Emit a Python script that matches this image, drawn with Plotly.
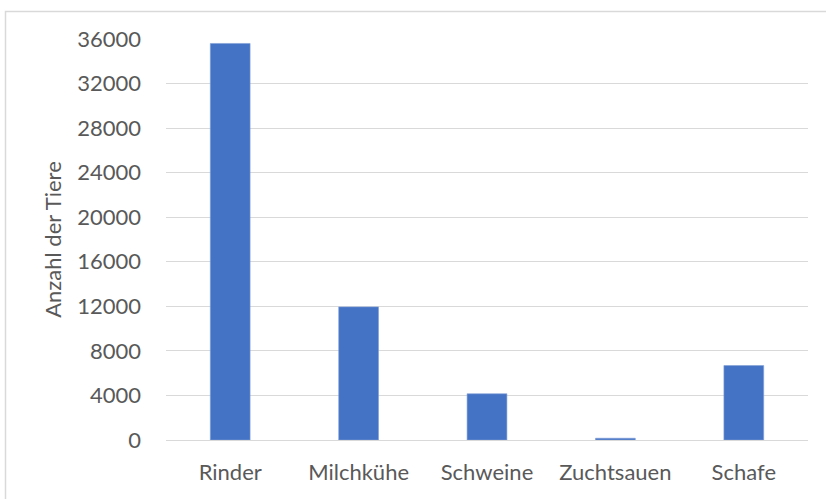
import plotly.graph_objects as go

# Livestock counts
categories = ["Rinder", "Milchkühe", "Schweine", "Zuchtsauen", "Schafe"]
animals = [35600, 11950, 4150, 160, 6680]
y_ticks = [0, 4000, 8000, 12000, 16000, 20000, 24000, 28000, 32000, 36000]

BAR_BLUE = "#4472C4"
GRID_GREY = "#d9d9d9"
TEXT_GREY = "#595959"

fig = go.Figure()
fig.add_trace(go.Bar(
    x=categories,
    y=animals,
    marker=dict(color=BAR_BLUE, line=dict(color="#7f9fd8", width=0.6)),
    hovertemplate="%{x}: %{y}<extra></extra>",
))

# outer chart frame (Excel chart area border), runs off the right/bottom edge
fig.add_shape(
    type="rect", xref="paper", yref="paper",
    x0=-0.2500, x1=1.04, y0=-0.17, y1=1.0686,
    line=dict(color=GRID_GREY, width=1.5),
    fillcolor="rgba(0,0,0,0)", layer="below",
)

fig.update_layout(
    width=826,
    height=499,
    margin=dict(l=166, r=18, t=39, b=59),
    paper_bgcolor="white",
    plot_bgcolor="white",
    bargap=0.69,
    showlegend=False,
    font=dict(family="Lato, 'Open Sans', sans-serif", size=22, color=TEXT_GREY),
)
fig.update_xaxes(
    showgrid=False, showline=False, zeroline=False,
    ticks="", ticklabelstandoff=17,
    tickfont=dict(size=22, color=TEXT_GREY),
)
fig.update_yaxes(
    range=[0, 36000],
    tickvals=y_ticks,
    ticktext=[str(v) for v in y_ticks],
    showgrid=True, gridcolor=GRID_GREY, gridwidth=1.3,
    zeroline=True, zerolinecolor=GRID_GREY, zerolinewidth=1.3,
    showline=False, ticks="", ticklabelstandoff=24,
    tickfont=dict(size=22, color=TEXT_GREY),
    title=dict(text="Anzahl der Tiere", font=dict(size=22, color=TEXT_GREY),
               standoff=9),
)

# drop the browser's default 8px body margin so the figure sits at 0,0
fig.write_html(
    "out.html",
    config={"displayModeBar": False},
    post_script="document.body.style.margin = '0';",
)
